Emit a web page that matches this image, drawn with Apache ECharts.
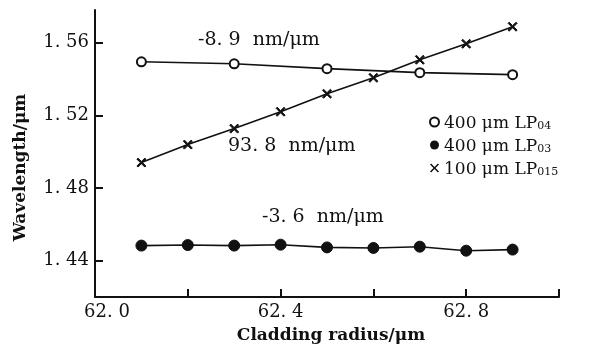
<!DOCTYPE html>
<html>
<head>
<meta charset="utf-8">
<script src="https://cdn.jsdelivr.net/npm/echarts@6/dist/echarts.min.js"></script>
<style>
  html, body { margin: 0; padding: 0; background: #fff; }
  #chart { width: 595px; height: 350px; }
</style>
</head>
<body>
<div id="chart"></div>
<script>
// cladding radius (um) for each measured mode
const radiusLP04 = [62.1, 62.3, 62.5, 62.7, 62.9]
const radiusLP03 = [62.1, 62.2, 62.3, 62.4, 62.5, 62.6, 62.7, 62.8, 62.9]
const radiusLP015 = [62.1, 62.2, 62.3, 62.4, 62.5, 62.6, 62.7, 62.8, 62.9]

// resonance wavelength (um)
const waveLP04 = [1.5495, 1.5484, 1.5457, 1.5435, 1.5424]
const waveLP03 = [1.4483, 1.4486, 1.4483, 1.4488, 1.4473, 1.4470, 1.4477, 1.4455, 1.4461]
const waveLP015 = [1.4940, 1.5039, 1.5127, 1.5220, 1.5319, 1.5407, 1.5506, 1.5594, 1.5688]

const yTicks = [1.44, 1.48, 1.52, 1.56]
const seriesNames = ['400 μm LP04', '400 μm LP03', '100 μm LP015']

const FONT = 'DejaVu Serif'
const crossIcon = 'path://M0,1.2L1.2,0L5,3.8L8.8,0L10,1.2L6.2,5L10,8.8L8.8,10L5,6.2L1.2,10L0,8.8L3.8,5Z'

const zip = (xs, ys) => xs.map((x, i) => [x, ys[i]])

const chart = echarts.init(document.getElementById('chart'))

const lineBase = {
  type: 'line',
  lineStyle: { color: '#111', width: 1.6 },
  itemStyle: { color: '#111', borderColor: '#111' },
  emphasis: { disabled: true },
  z: 3
}

chart.setOption({
  animation: false,
  backgroundColor: '#fff',
  grid: { left: 95, right: 36, top: 10, bottom: 53 },
  xAxis: {
    type: 'value',
    min: 62.0,
    max: 63.0,
    interval: 0.2,
    name: 'Cladding radius/μm',
    nameLocation: 'middle',
    nameGap: 30,
    nameTextStyle: { fontFamily: FONT, fontSize: 17, fontWeight: 'bold', color: '#111', padding: [0, 0, 0, 8] },
    axisLine: { lineStyle: { color: '#111', width: 2 } },
    axisTick: { inside: true, length: 8, lineStyle: { color: '#111', width: 2 } },
    axisLabel: {
      margin: 6,
      fontFamily: FONT,
      fontSize: 18,
      color: '#111',
      formatter: v => {
        const k = Math.round(v * 10)
        if (k % 4 !== 0) return ''
        const s = v.toFixed(1).replace('.', '. ')
        return k === 620 ? '{f|' + s + '}' : s
      },
      rich: { f: { fontFamily: FONT, fontSize: 18, color: '#111', padding: [0, 0, 0, 24] } }
    },
    splitLine: { show: false }
  },
  yAxis: {
    type: 'value',
    min: 1.42,
    max: 1.578,
    name: 'Wavelength/μm',
    nameLocation: 'middle',
    nameGap: 66,
    nameTextStyle: { fontFamily: FONT, fontSize: 17, fontWeight: 'bold', color: '#111', padding: [0, 28, 0, 0] },
    axisLine: { lineStyle: { color: '#111', width: 2 } },
    axisTick: { inside: true, length: 8, customValues: yTicks, lineStyle: { color: '#111', width: 2 } },
    axisLabel: {
      margin: 6,
      fontFamily: FONT,
      fontSize: 18,
      color: '#111',
      customValues: yTicks,
      formatter: v => v.toFixed(2).replace('.', '. ')
    },
    splitLine: { show: false }
  },
  legend: {
    orient: 'vertical',
    left: 424,
    top: 110,
    itemWidth: 9,
    itemHeight: 9,
    itemGap: 6,
    selectedMode: false,
    data: [
      { name: seriesNames[0], icon: 'emptyCircle' },
      { name: seriesNames[1], icon: 'circle' },
      { name: seriesNames[2], icon: crossIcon }
    ],
    formatter: name => {
      const m = name.match(/^(.*LP)(\d+)$/)
      return '{m|' + m[1] + '}{s|' + m[2] + '}'
    },
    textStyle: {
      color: '#111',
      rich: {
        m: { fontFamily: FONT, fontSize: 17, color: '#111', lineHeight: 20, verticalAlign: 'bottom' },
        s: { fontFamily: FONT, fontSize: 11, color: '#111', lineHeight: 20, verticalAlign: 'bottom', padding: [6, 0, 0, 0] }
      }
    }
  },
  graphic: [
    { type: 'text', left: 198, top: 31, style: { text: '-8. 9  nm/μm', font: '19px "DejaVu Serif"', fill: '#111' } },
    { type: 'text', left: 228, top: 137, style: { text: '93. 8  nm/μm', font: '19px "DejaVu Serif"', fill: '#111' } },
    { type: 'text', left: 262, top: 208, style: { text: '-3. 6  nm/μm', font: '19px "DejaVu Serif"', fill: '#111' } }
  ],
  series: [
    Object.assign({}, lineBase, {
      name: seriesNames[0],
      data: zip(radiusLP04, waveLP04),
      symbol: 'emptyCircle',
      symbolSize: 9,
      itemStyle: { color: '#111', borderColor: '#111', borderWidth: 2.2 }
    }),
    Object.assign({}, lineBase, {
      name: seriesNames[1],
      data: zip(radiusLP03, waveLP03),
      symbol: 'circle',
      symbolSize: 11
    }),
    Object.assign({}, lineBase, {
      name: seriesNames[2],
      data: zip(radiusLP015, waveLP015),
      symbol: crossIcon,
      symbolSize: 9
    })
  ]
})
</script>
</body>
</html>
